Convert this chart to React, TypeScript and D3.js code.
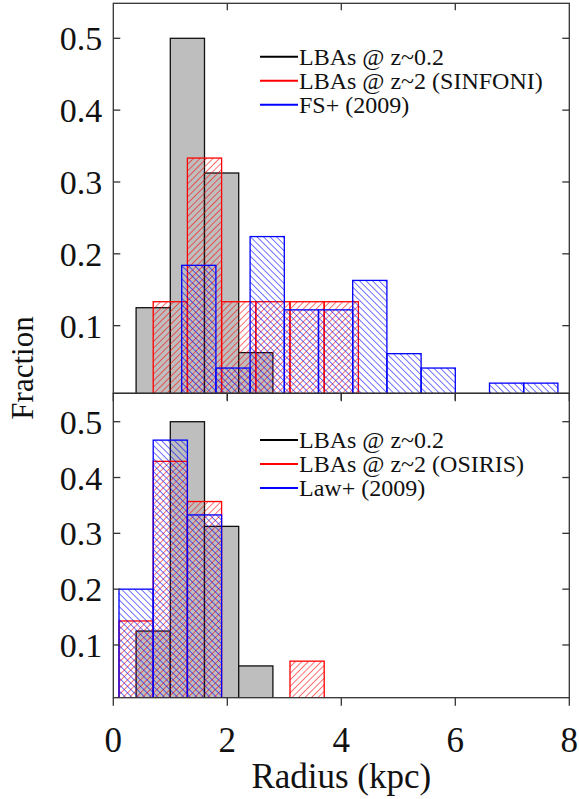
import { useEffect, useRef } from "react";
import * as d3 from "d3";

// bin width of every histogram (kpc)
const binWidth = 0.6;

// LBAs @ z~0.2 (same in both panels)
const localStarts = [0.4, 1.0, 1.6, 2.2];
const localFrac = [0.125, 0.5, 0.3125, 0.0625];

// top panel: SINFONI + FS+ (2009)
const sinfoniStarts = [0.7, 1.3, 1.9, 2.5, 3.1, 3.7];
const sinfoniFrac = [0.1333, 0.3333, 0.1333, 0.1333, 0.1333, 0.1333];
const fsStarts = [1.2, 1.8, 2.4, 3.0, 3.6, 4.2, 4.8, 5.4, 6.6, 7.2];
const fsFrac = [0.184, 0.041, 0.224, 0.122, 0.122, 0.163, 0.061, 0.041, 0.02, 0.02];

// bottom panel: OSIRIS + Law+ (2009)
const osirisStarts = [0.1, 0.7, 1.3, 3.1];
const osirisFrac = [0.143, 0.429, 0.357, 0.071];
const lawStarts = [0.1, 0.7, 1.3];
const lawFrac = [0.2, 0.467, 0.333];

const xTicks = [0, 2, 4, 6, 8];
const yTicks = [0.1, 0.2, 0.3, 0.4, 0.5];

const topLabels = ["LBAs @ z~0.2", "LBAs @ z~2 (SINFONI)", "FS+ (2009)"];
const bottomLabels = ["LBAs @ z~0.2", "LBAs @ z~2 (OSIRIS)", "Law+ (2009)"];

type Bin = { start: number; value: number };
const toBins = (s: number[], v: number[]): Bin[] => s.map((d, i) => ({ start: d, value: v[i] }));

const W = 579;
const H = 799;
const FONT = "'Liberation Serif', 'Times New Roman', serif";

const App = () => {
  const svgRef = useRef<SVGSVGElement | null>(null);

  useEffect(() => {
    if (!svgRef.current) return;
    const svg = d3.select(svgRef.current);
    svg.selectAll("*").remove();

    const x = d3.scaleLinear().domain([0, 8]).range([113.3, 569.3]);
    const left = x(0);
    const right = x(8);

    const panels = [
      {
        id: "top",
        top: 3.3,
        bottom: 393.3,
        y: d3.scaleLinear().domain([0, 0.5]).range([397.5, 38.3]),
        red: toBins(sinfoniStarts, sinfoniFrac),
        blue: toBins(fsStarts, fsFrac),
        labels: topLabels,
        legendY: 56.7,
      },
      {
        id: "bot",
        top: 393.3,
        bottom: 697.7,
        y: d3.scaleLinear().domain([0, 0.5]).range([700.8, 421.7]),
        red: toBins(osirisStarts, osirisFrac),
        blue: toBins(lawStarts, lawFrac),
        labels: bottomLabels,
        legendY: 440,
      },
    ];

    const defs = svg.append("defs");
    // hatch patterns
    const hatch = (id: string, color: string, angle: number) => {
      const p = defs
        .append("pattern")
        .attr("id", id)
        .attr("patternUnits", "userSpaceOnUse")
        .attr("width", 4.6)
        .attr("height", 4.6)
        .attr("patternTransform", `rotate(${angle})`);
      p.append("line")
        .attr("x1", 0)
        .attr("y1", 0)
        .attr("x2", 0)
        .attr("y2", 4.6)
        .attr("stroke", color)
        .attr("stroke-width", 1.1);
    };
    hatch("hatch-red", "#ff0000", 45);
    hatch("hatch-blue", "#0000ff", -45);

    panels.forEach((p) => {
      defs
        .append("clipPath")
        .attr("id", `clip-${p.id}`)
        .append("rect")
        .attr("x", left)
        .attr("y", p.top)
        .attr("width", right - left)
        .attr("height", p.bottom - p.top);

      const g = svg.append("g").attr("clip-path", `url(#clip-${p.id})`);
      const bars = (data: Bin[], fill: string, stroke: string, sw: number) =>
        g
          .append("g")
          .selectAll("rect")
          .data(data)
          .join("rect")
          .attr("x", (d) => x(d.start))
          .attr("width", (d) => x(d.start + binWidth) - x(d.start))
          .attr("y", (d) => p.y(d.value))
          .attr("height", (d) => p.y(0) - p.y(d.value))
          .attr("fill", fill)
          .attr("stroke", stroke)
          .attr("stroke-width", sw);

      bars(toBins(localStarts, localFrac), "#bebebe", "#111", 1.3);
      bars(p.red, "url(#hatch-red)", "#ff0000", 1.3);
      bars(p.blue, "url(#hatch-blue)", "#0000ff", 1.3);

      // frame
      svg
        .append("rect")
        .attr("x", left)
        .attr("y", p.top)
        .attr("width", right - left)
        .attr("height", p.bottom - p.top)
        .attr("fill", "none")
        .attr("stroke", "#333")
        .attr("stroke-width", 1.3);

      // y ticks, inward on both sides
      yTicks.forEach((t) => {
        const yy = p.y(t);
        svg.append("line").attr("x1", left).attr("x2", left + 7).attr("y1", yy).attr("y2", yy)
          .attr("stroke", "#333").attr("stroke-width", 1.3);
        svg.append("line").attr("x1", right - 7).attr("x2", right).attr("y1", yy).attr("y2", yy)
          .attr("stroke", "#333").attr("stroke-width", 1.3);
        svg
          .append("text")
          .attr("x", left - 11)
          .attr("y", yy + 12)
          .attr("text-anchor", "end")
          .attr("font-family", FONT)
          .attr("font-size", 34)
          .attr("fill", "#111")
          .text(d3.format(".1f")(t));
      });

      // x ticks along top and bottom edges
      xTicks.forEach((t) => {
        const xx = x(t);
        if (t > 0 && t < 8) {
          svg.append("line").attr("x1", xx).attr("x2", xx).attr("y1", p.top).attr("y2", p.top + 7)
            .attr("stroke", "#333").attr("stroke-width", 1.3);
        }
        svg.append("line").attr("x1", xx).attr("x2", xx).attr("y1", p.bottom).attr("y2", p.bottom + 8)
          .attr("stroke", "#333").attr("stroke-width", 1.3);
      });

      // legend
      const colors = ["#000", "#ff0000", "#0000ff"];
      p.labels.forEach((lab, i) => {
        const ly = p.legendY + i * 24;
        svg.append("line").attr("x1", 260).attr("x2", 298).attr("y1", ly).attr("y2", ly)
          .attr("stroke", colors[i]).attr("stroke-width", 2);
        svg
          .append("text")
          .attr("x", 299)
          .attr("y", ly + 8)
          .attr("font-family", FONT)
          .attr("font-size", 24)
          .attr("fill", "#111")
          .text(lab);
      });
    });

    // x tick labels
    xTicks.forEach((t) => {
      svg
        .append("text")
        .attr("x", x(t))
        .attr("y", 752)
        .attr("text-anchor", "middle")
        .attr("font-family", FONT)
        .attr("font-size", 35)
        .attr("fill", "#111")
        .text(t);
    });

    svg
      .append("text")
      .attr("x", (left + right) / 2)
      .attr("y", 788)
      .attr("text-anchor", "middle")
      .attr("font-family", FONT)
      .attr("font-size", 35)
      .attr("fill", "#111")
      .text("Radius (kpc)");

    svg
      .append("text")
      .attr("transform", "translate(33,368) rotate(-90)")
      .attr("text-anchor", "middle")
      .attr("font-family", FONT)
      .attr("font-size", 31)
      .attr("fill", "#111")
      .text("Fraction");
  }, []);

  return (
    <svg
      ref={svgRef}
      width={W}
      height={H}
      style={{ position: "absolute", left: 0, top: 0, background: "#fff" }}
    />
  );
};

export default App;
